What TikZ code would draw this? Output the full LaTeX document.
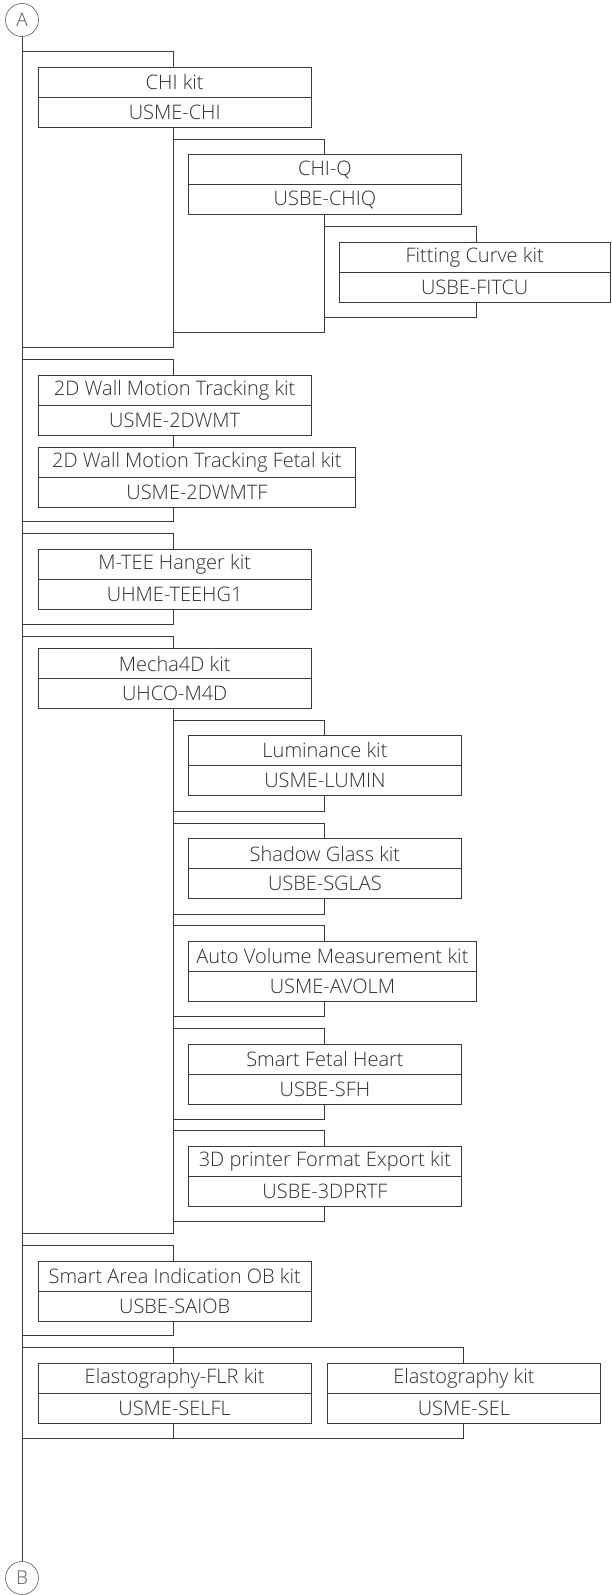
\documentclass[tikz,border=0pt]{standalone}
\usepackage{fontspec}
\setmainfont{Open Sans}[UprightFont={* Light}]
\definecolor{linec}{HTML}{3A3A3A}
\definecolor{textc}{HTML}{2E2E2E}
\definecolor{circc}{HTML}{5A5A5A}
\newcommand\kitfont{\fontsize{20}{21}\selectfont}
\newcommand\kitrow[6]{%
  \node[rowbox, minimum width=#4pt] (#1) at (#2,#3) {#5};
  \node[rowbox, minimum width=#4pt] (#1c) at (#2,#3+30) {#6};}
\tikzset{
  rowbox/.style={draw=linec, line width=0.9pt, minimum height=30pt, inner sep=0pt,
    anchor=north west, font=\kitfont, text=textc},
  conn/.style={draw=linec, line width=0.9pt},
  circ/.style={circle, draw=circc, line width=0.6pt, minimum size=33pt, inner sep=0pt,
    font=\fontsize{19}{20}\selectfont, text=circc}
}
\begin{document}
\begin{tikzpicture}[x=1pt,y=-1pt]
\useasboundingbox (0,0) rectangle (611,1595);
% connector circles and main line
\node[circ] (A) at (22,20) {A};
\node[circ] (B) at (22,1578) {B};
\draw[conn] (A) -- (B);
% x positions of the vertical connectors
\coordinate (x1) at (173,0);
\coordinate (x2) at (324,0);
\coordinate (x3) at (476,0);
\coordinate (x4) at (463,0);
% ---------- group 1
\kitrow{chi}{38}{67}{272.5}{CHI kit}{USME-CHI}
\kitrow{chiq}{188}{154}{273}{CHI-Q}{USBE-CHIQ}
\kitrow{fit}{339}{242}{270.5}{Fitting Curve kit}{USBE-FITCU}
\coordinate (g1t) at (22,51);
\coordinate (g1b) at (22,347);
\coordinate (q1t) at (173,139);
\coordinate (q1b) at (173,332);
\coordinate (f1t) at (324,226.5);
\coordinate (f1b) at (324,317);
\draw[conn] (g1t) -| (chi.north -| x1);
\draw[conn] (chic.south -| x1) |- (g1b);
\draw[conn] (q1t) -| (chiq.north -| x2);
\draw[conn] (chiqc.south -| x2) |- (q1b);
\draw[conn] (f1t) -| (fit.north -| x3);
\draw[conn] (fitc.south -| x3) |- (f1b);
% ---------- group 2
\kitrow{wmt}{38}{374.5}{272.5}{2D Wall Motion Tracking kit}{USME-2DWMT}
\kitrow{wmtf}{38}{446.7}{317}{2D Wall Motion Tracking Fetal kit}{USME-2DWMTF}
\coordinate (g2t) at (22,359.3);
\coordinate (g2b) at (22,521.7);
\draw[conn] (g2t) -| (wmt.north -| x1);
\draw[conn] (wmtc.south -| x1) -- (wmtf.north -| x1);
\draw[conn] (wmtfc.south -| x1) |- (g2b);
% ---------- group 3
\kitrow{mtee}{38}{549}{272.5}{M-TEE Hanger kit}{UHME-TEEHG1}
\coordinate (g3t) at (22,533.3);
\coordinate (g3b) at (22,624);
\draw[conn] (g3t) -| (mtee.north -| x1);
\draw[conn] (mteec.south -| x1) |- (g3b);
% ---------- group 4
\kitrow{mfd}{38}{648.3}{272.5}{Mecha4D kit}{UHCO-M4D}
\coordinate (g4t) at (22,636);
\coordinate (g4b) at (22,1233.5);
\draw[conn] (g4t) -| (mfd.north -| x1);
\draw[conn] (mfdc.south -| x1) |- (g4b);
\kitrow{lum}{188}{735}{273}{Luminance kit}{USME-LUMIN}
\kitrow{sgl}{188}{838.3}{273}{Shadow Glass kit}{USBE-SGLAS}
\kitrow{avm}{188}{941}{288}{Auto Volume Measurement kit}{USME-AVOLM}
\kitrow{sfh}{188}{1043.7}{273}{Smart Fetal Heart}{USBE-SFH}
\kitrow{tdp}{188}{1145.7}{273}{3D printer Format Export kit}{USBE-3DPRTF}
\coordinate (s1t) at (173,720.7);
\coordinate (s1b) at (173,811.5);
\coordinate (s2t) at (173,823);
\coordinate (s2b) at (173,914);
\coordinate (s3t) at (173,925.7);
\coordinate (s3b) at (173,1016.7);
\coordinate (s4t) at (173,1028.3);
\coordinate (s4b) at (173,1119);
\coordinate (s5t) at (173,1130.3);
\coordinate (s5b) at (173,1221);
\draw[conn] (s1t) -| (lum.north -| x2);
\draw[conn] (lumc.south -| x2) |- (s1b);
\draw[conn] (s2t) -| (sgl.north -| x2);
\draw[conn] (sglc.south -| x2) |- (s2b);
\draw[conn] (s3t) -| (avm.north -| x2);
\draw[conn] (avmc.south -| x2) |- (s3b);
\draw[conn] (s4t) -| (sfh.north -| x2);
\draw[conn] (sfhc.south -| x2) |- (s4b);
\draw[conn] (s5t) -| (tdp.north -| x2);
\draw[conn] (tdpc.south -| x2) |- (s5b);
% ---------- group 5
\kitrow{sai}{38}{1260.7}{272.5}{Smart Area Indication OB kit}{USBE-SAIOB}
\coordinate (g5t) at (22,1245);
\coordinate (g5b) at (22,1335.7);
\draw[conn] (g5t) -| (sai.north -| x1);
\draw[conn] (saic.south -| x1) |- (g5b);
% ---------- group 6
\kitrow{flr}{38}{1363.3}{272.5}{Elastography-FLR kit}{USME-SELFL}
\kitrow{el}{327}{1363.3}{273}{Elastography kit}{USME-SEL}
\coordinate (g6t) at (22,1347.7);
\coordinate (g6b) at (22,1438);
\draw[conn] (g6t) -| (el.north -| x4);
\draw[conn] (g6t -| x1) -- (flr.north -| x1);
\draw[conn] (elc.south -| x4) |- (g6b);
\draw[conn] (flrc.south -| x1) -- (g6b -| x1);
\end{tikzpicture}
\end{document}
